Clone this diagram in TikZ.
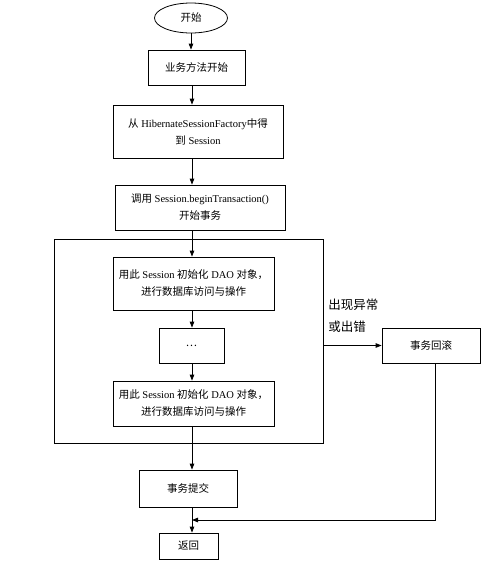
\documentclass[tikz,border=0pt]{standalone}
\usepackage{fontspec}
\setmainfont{Liberation Serif}
\newfontfamily\zh{Noto Sans CJK SC}
\usetikzlibrary{shapes.geometric,arrows.meta}
\tikzset{
  box/.style={draw, rectangle, inner sep=0pt, align=center, font=\fontsize{10.5}{17}\selectfont},
  flow/.style={-{Triangle[length=6pt,width=4.5pt]}},
}
\begin{document}
\begin{tikzpicture}[x=1pt,y=-1pt,line width=0.8pt]
\useasboundingbox (0,0) rectangle (493,566);

\node[box, ellipse, minimum width=73pt, minimum height=30pt] (start) at (191,18) {\zh 开始};
\node[box, minimum width=97pt, minimum height=35pt] (begin) at (196.5,67.5) {\zh 业务方法开始};
\node[box, minimum width=170pt, minimum height=53pt] (factory) at (198,131.5)
  {{\zh 从} HibernateSessionFactory{\zh 中得}\\{\zh 到} Session};
\node[box, minimum width=170pt, minimum height=45pt] (trans) at (200,207.5)
  {{\zh 调用} Session.beginTransaction()\\{\zh 开始事务}};

% try block
\node[box, minimum width=269pt, minimum height=204pt] (frame) at (188.5,341) {};
\node[box, minimum width=161pt, minimum height=53pt] (daoA) at (193.5,283.5)
  {{\zh 用此} Session {\zh 初始化} DAO {\zh 对象，}\\{\zh 进行数据库访问与操作}};
\node[box, minimum width=65pt, minimum height=35pt] (dots) at (191.5,345.5) {\zh …};
\node[box, minimum width=161pt, minimum height=45pt] (daoB) at (193.5,403.5)
  {{\zh 用此} Session {\zh 初始化} DAO {\zh 对象，}\\{\zh 进行数据库访问与操作}};

\node[box, minimum width=98pt, minimum height=35pt] (rollback) at (431,345.5) {\zh 事务回滚};
\node[align=left, anchor=west, inner sep=0pt, font=\fontsize{12.5}{22}\selectfont] (errlabel) at (328,316)
  {\zh 出现异常\\\zh 或出错};

\node[box, minimum width=98pt, minimum height=37pt] (commit) at (188,488.5) {\zh 事务提交};
\node[box, minimum width=59pt, minimum height=26pt] (return) at (188.5,546) {\zh 返回};

\coordinate (join) at (192,520);

\draw[flow] (start) -- (start |- begin.north);
\draw[flow] (192,0 |- begin.south) -- (192,0 |- factory.north);
\draw[flow] (192,0 |- factory.south) -- (192,0 |- trans.north);
\draw[flow] (192,0 |- trans.south) -- (192,0 |- daoA.north);
\draw[flow] (192,0 |- daoA.south) -- (192,0 |- dots.north);
\draw[flow] (192,0 |- dots.south) -- (192,0 |- daoB.north);
\draw[flow] (192,0 |- daoB.south) -- (192,0 |- commit.north);
\draw[flow] (192,0 |- commit.south) -- (192,0 |- return.north);
\draw[flow] (frame.east |- rollback) -- (rollback.west);
\draw[flow] ([xshift=4pt]rollback.south) |- (join);
\end{tikzpicture}
\end{document}
